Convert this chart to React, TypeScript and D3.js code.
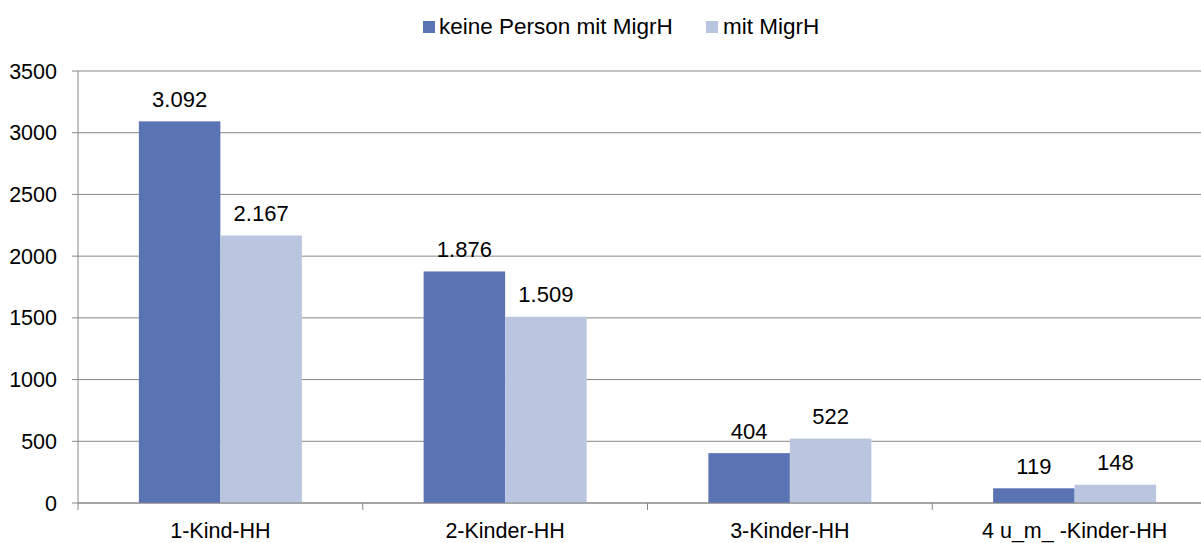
import React from "react";
import * as d3 from "d3";

const categories = ["1-Kind-HH", "2-Kinder-HH", "3-Kinder-HH", "4 u_m_ -Kinder-HH"];
const seriesNames = ["keine Person mit MigrH", "mit MigrH"];
const keinePerson = [3092, 1876, 404, 119];
const mitMigrH = [2167, 1509, 522, 148];
const yTicks = [0, 500, 1000, 1500, 2000, 2500, 3000, 3500];
const colors = ["#5A73B3", "#BAC5E0"];

const width = 1201;
const height = 543;
const left = 78;
const plotRight = 1217;
const top = 71;
const bottom = 503;
const font = "'Liberation Sans', Arial, sans-serif";

const fmt = (v: number) => d3.format(",")(v).replace(/,/g, ".");

const App = () => {
  const y = d3.scaleLinear().domain([0, 3500]).range([bottom, top]);
  const x = d3.scaleBand().domain(categories).range([left, plotRight]).padding(0);
  const barW = 81.5;
  const pad = (x.bandwidth() / barW - 2) / 2;
  const inner = d3
    .scaleBand()
    .domain(seriesNames)
    .range([0, x.bandwidth()])
    .paddingInner(0)
    .paddingOuter(pad);

  const values = [keinePerson, mitMigrH];
  const boundaries = categories.map((c) => x(c) as number).concat([plotRight]);

  return (
    <svg
      width={width}
      height={height}
      style={{ position: "absolute", left: 0, top: 0, background: "#fff" }}
      fontFamily={font}
    >
      {/* legend */}
      <g>
        <rect x={423} y={21} width={12} height={12} fill={colors[0]} />
        <text x={439} y={33.5} fontSize={22.5}>{seriesNames[0]}</text>
        <rect x={706} y={21} width={12} height={12} fill={colors[1]} />
        <text x={723} y={33.5} fontSize={22.5}>{seriesNames[1]}</text>
      </g>

      {/* gridlines + y axis */}
      {yTicks.map((t) => (
        <g key={t}>
          <line x1={left - 6} x2={width} y1={y(t)} y2={y(t)} stroke="#878787" strokeWidth={1} />
          <text x={57} y={y(t) + 7.5} textAnchor="end" fontSize={21.5}>{t}</text>
        </g>
      ))}
      <line x1={left} x2={left} y1={top} y2={bottom} stroke="#878787" />

      {/* bars */}
      {categories.map((c, i) => (
        <g key={c} transform={`translate(${x(c)},0)`}>
          {seriesNames.map((s, j) => {
            const v = values[j][i];
            const bx = inner(s) as number;
            return (
              <g key={s}>
                <rect
                  x={bx}
                  y={y(v)}
                  width={inner.bandwidth()}
                  height={bottom - y(v)}
                  fill={colors[j]}
                />
                <text
                  x={bx + inner.bandwidth() / 2}
                  y={y(v) - 14.5}
                  textAnchor="middle"
                  fontSize={22}
                >
                  {fmt(v)}
                </text>
              </g>
            );
          })}
          <text x={x.bandwidth() / 2} y={538} textAnchor="middle" fontSize={21.5}>{c}</text>
        </g>
      ))}

      {/* x axis */}
      <line x1={left} x2={width} y1={bottom} y2={bottom} stroke="#878787" />
      {boundaries.map((b, i) => (
        <line key={i} x1={b} x2={b} y1={bottom} y2={bottom + 7} stroke="#878787" />
      ))}
    </svg>
  );
};

export default App;
